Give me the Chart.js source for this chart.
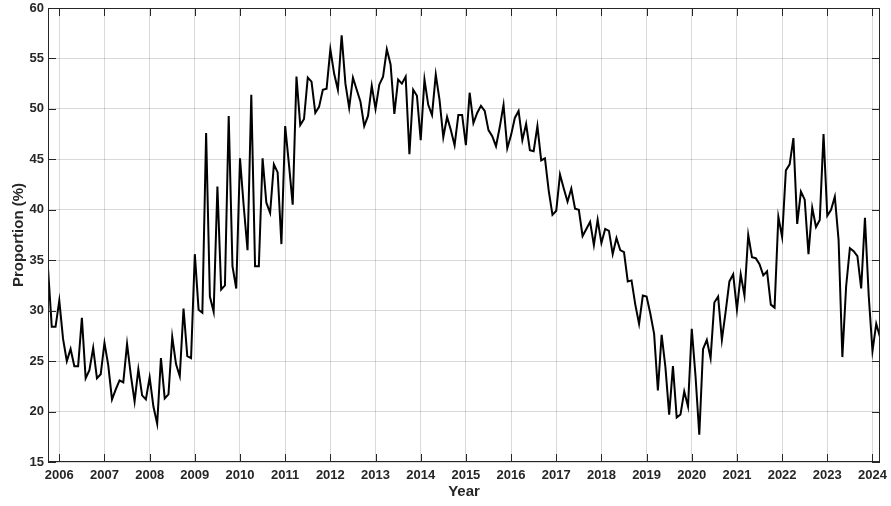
<!DOCTYPE html>
<html>
<head>
<meta charset="utf-8">
<script src="https://cdn.jsdelivr.net/npm/chart.js@4"></script>
<style>
  html, body { margin: 0; padding: 0; background: #ffffff; }
  #wrap { width: 891px; height: 506px; }
</style>
</head>
<body>
<div id="wrap"><canvas id="chart" width="891" height="506"></canvas></div>
<script>
// Monthly series, first month October 2005, last month March 2024
const startYear = 2005;
const startMonth = 10;

const proportion = [
  34.2, 28.4, 28.4,                                                       // 2005 Oct-Dec
  31.0, 27.2, 25.0, 26.2, 24.5, 24.5, 29.3, 23.3, 24.1, 26.3, 23.3, 23.7, // 2006
  26.8, 24.6, 21.2, 22.2, 23.1, 22.9, 26.7, 23.6, 21.0, 24.2, 21.6, 21.2, // 2007
  23.4, 20.5, 18.8, 25.3, 21.3, 21.7, 27.4, 24.7, 23.5, 30.2, 25.5, 25.3, // 2008
  35.6, 30.1, 29.8, 47.6, 31.4, 29.9, 42.3, 32.1, 32.5, 49.3, 34.4, 32.2, // 2009
  45.1, 40.3, 36.0, 51.4, 34.4, 34.4, 45.1, 40.7, 39.7, 44.5, 43.7, 36.6, // 2010
  48.3, 44.5, 40.5, 53.2, 48.4, 49.0, 53.1, 52.7, 49.6, 50.2, 51.9, 52.0, // 2011
  55.9, 53.5, 51.9, 57.3, 52.5, 50.1, 53.1, 51.9, 50.7, 48.3, 49.3, 52.3, // 2012
  50.0, 52.4, 53.2, 55.9, 54.4, 49.5, 52.9, 52.5, 53.2, 45.5, 51.9, 51.3, // 2013
  46.9, 52.9, 50.4, 49.4, 53.4, 50.9, 47.2, 49.2, 47.9, 46.4, 49.4, 49.4, // 2014
  46.4, 51.6, 48.6, 49.6, 50.3, 49.8, 47.9, 47.3, 46.3, 48.2, 50.4, 46.1, // 2015
  47.4, 49.1, 49.8, 46.9, 48.5, 45.9, 45.8, 48.3, 44.9, 45.1, 41.9, 39.5, // 2016
  39.9, 43.5, 42.1, 40.8, 42.1, 40.1, 40.0, 37.4, 38.1, 38.8, 36.5, 39.0, // 2017
  36.7, 38.1, 37.9, 35.6, 37.2, 36.0, 35.8, 32.9, 33.0, 30.6, 28.7, 31.5, // 2018
  31.4, 29.7, 27.7, 22.1, 27.6, 24.4, 19.7, 24.5, 19.4, 19.7, 22.0, 20.5, // 2019
  28.2, 23.5, 17.7, 26.2, 27.1, 25.3, 30.8, 31.4, 27.1, 29.9, 32.9, 33.6, // 2020
  30.1, 33.6, 31.5, 37.5, 35.3, 35.2, 34.6, 33.5, 33.9, 30.6, 30.3, 39.3, // 2021
  37.3, 43.9, 44.5, 47.1, 38.6, 41.8, 41.0, 35.6, 40.2, 38.3, 39.0, 47.5, // 2022
  39.4, 40.0, 41.3, 37.0, 25.4, 32.4, 36.2, 35.9, 35.4, 32.2, 39.2, 31.5, // 2023
  26.0, 28.7, 27.4                                                        // 2024 Jan-Mar
];

const yearTicks = [2006, 2007, 2008, 2009, 2010, 2011, 2012, 2013, 2014, 2015,
                   2016, 2017, 2018, 2019, 2020, 2021, 2022, 2023, 2024];
const proportionTicks = [15, 20, 25, 30, 35, 40, 45, 50, 55, 60];

// decimal-year position of each month
const points = proportion.map((v, i) => ({
  x: startYear + (startMonth - 1 + i) / 12,
  y: v
}));

const FONT = '"Liberation Sans", Arial, Helvetica, sans-serif';
const AXIS_COLOR = '#262626';
const TICK_LEN = 8;

// box around the axes with short inward tick marks on all four sides
const axesBox = {
  id: 'axesBox',
  afterDraw(chart) {
    const { ctx, chartArea: a, scales } = chart;
    ctx.save();
    ctx.strokeStyle = AXIS_COLOR;
    ctx.lineWidth = 1;
    ctx.beginPath();
    for (const yr of yearTicks) {
      const px = Math.round(scales.x.getPixelForValue(yr)) + 0.5;
      ctx.moveTo(px, a.bottom); ctx.lineTo(px, a.bottom - TICK_LEN);
      ctx.moveTo(px, a.top);    ctx.lineTo(px, a.top + TICK_LEN);
    }
    for (const v of proportionTicks) {
      const py = Math.round(scales.y.getPixelForValue(v)) + 0.5;
      ctx.moveTo(a.left, py);  ctx.lineTo(a.left + TICK_LEN, py);
      ctx.moveTo(a.right, py); ctx.lineTo(a.right - TICK_LEN, py);
    }
    ctx.stroke();
    ctx.strokeRect(Math.round(a.left) + 0.5, Math.round(a.top) + 0.5,
                   Math.round(a.right - a.left) - 1, Math.round(a.bottom - a.top) - 1);
    ctx.restore();
  }
};

new Chart(document.getElementById('chart'), {
  type: 'line',
  data: {
    datasets: [{
      data: points,
      borderColor: '#000000',
      borderWidth: 2,
      pointRadius: 0,
      tension: 0,
      fill: false
    }]
  },
  options: {
    responsive: false,
    animation: false,
    devicePixelRatio: 1,
    layout: { padding: { top: 8, right: 11, left: 0, bottom: 0 } },
    plugins: { legend: { display: false }, tooltip: { enabled: false } },
    scales: {
      x: {
        type: 'linear',
        min: startYear + (startMonth - 1) / 12,
        max: startYear + (startMonth - 1 + proportion.length - 1) / 12,
        afterBuildTicks(scale) { scale.ticks = yearTicks.map(v => ({ value: v })); },
        afterFit(scale) {
          scale.height = 44;
          scale.paddingLeft = 0;
          scale.paddingRight = 0;
        },
        border: { display: false },
        grid: { color: 'rgba(0,0,0,0.15)', lineWidth: 1, drawTicks: false },
        ticks: {
          color: AXIS_COLOR,
          font: { family: FONT, size: 13, weight: 'bold' },
          padding: 6,
          maxRotation: 0,
          autoSkip: false,
          callback: v => String(v)
        },
        title: {
          display: true,
          text: 'Year',
          color: AXIS_COLOR,
          font: { family: FONT, size: 15, weight: 'bold' },
          padding: { top: 0, bottom: 5 }
        }
      },
      y: {
        min: 15,
        max: 60,
        afterBuildTicks(scale) { scale.ticks = proportionTicks.map(v => ({ value: v })); },
        afterFit(scale) {
          scale.width = 48;
          scale.paddingTop = 0;
          scale.paddingBottom = 0;
        },
        border: { display: false },
        grid: { color: 'rgba(0,0,0,0.15)', lineWidth: 1, drawTicks: false },
        ticks: {
          color: AXIS_COLOR,
          font: { family: FONT, size: 13, weight: 'bold' },
          padding: 4,
          callback: v => String(v)
        },
        title: {
          display: true,
          text: 'Proportion (%)',
          color: AXIS_COLOR,
          font: { family: FONT, size: 15, weight: 'bold' },
          padding: { top: 10, bottom: 0 }
        }
      }
    }
  },
  plugins: [axesBox]
});
</script>
</body>
</html>
